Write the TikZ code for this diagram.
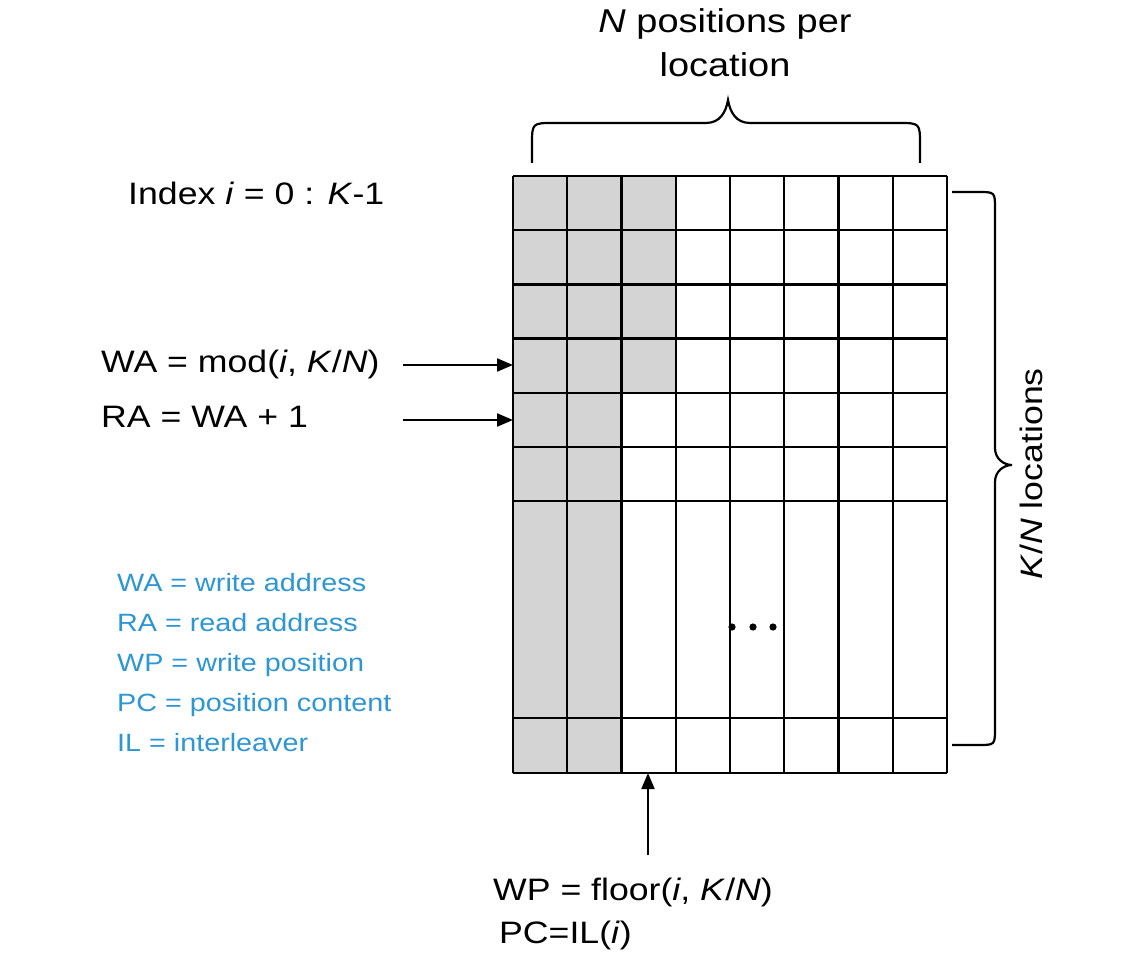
\documentclass[tikz,border=0pt]{standalone}
\usepackage{fontspec}
\setmainfont{Liberation Sans}[FakeStretch=1.15]
\usetikzlibrary{arrows.meta}
\definecolor{cellgray}{RGB}{212,212,212}
\definecolor{legblue}{RGB}{45,150,212}
\begin{document}
\begin{tikzpicture}[x=1pt,y=-1pt,
  gridline/.style={line width=2.3pt, black},
  bracepath/.style={line width=2.2pt, black},
  mainlbl/.style={inner sep=0pt, font=\fontsize{31}{37}\selectfont},
  toplbl/.style={inner sep=0pt, font=\fontsize{33}{40}\selectfont},
  leglbl/.style={inner sep=0pt, text=legblue, font=\fontsize{25}{30}\selectfont},
  ptr/.style={line width=2.2pt, -{Triangle[length=16pt,width=13pt]}}]
\useasboundingbox (0,0) rectangle (1143,957);
\fill[white] (0,0) rectangle (1143,957);

% shaded cells
\fill[cellgray] (513,176) rectangle (621.5,773);
\fill[cellgray] (621.5,176) rectangle (675.75,392.8);
% grid lines
\foreach \i in {0,...,8} {
  \draw[gridline] ({513+\i*54.25},176) -- ({513+\i*54.25},773);
}
\foreach \yy in {176,230.2,284.4,338.6,392.8,447,501.2,718,773} {
  \draw[gridline] (513,\yy) -- (947,\yy);
}
\coordinate (gridWA) at (513,365);
\coordinate (gridRA) at (513,420);
\coordinate (gridWP) at (648,773);

% dots
\foreach \dx in {732,753,773} { \fill (\dx,627) circle (3.6pt); }

% top brace
\draw[bracepath] (532,163) -- (532,145) .. controls (532,123) .. (554,123) -- (706,123)
  .. controls (720,123) and (726,112) .. (728,100)
  .. controls (730,112) and (736,123) .. (750,123) -- (898,123)
  .. controls (920,123) .. (920,145) -- (920,163);
\node[toplbl, anchor=base] (top1) at (725,33) {\textit{N} positions per};
\node[toplbl, anchor=base] (top2) at (725,77) {location};

% right brace
\draw[bracepath] (952,192) -- (978,192) .. controls (995,192) .. (995,209) -- (995,448)
  .. controls (995,459) and (1004,465) .. (1012,465)
  .. controls (1004,465) and (995,471) .. (995,482) -- (995,728)
  .. controls (995,745) .. (978,745) -- (952,745);
\node[mainlbl, rotate=90] (kn) at (1031,474) {\textit{K}/\textit{N} locations};

% left labels
\node[mainlbl, anchor=base west] (index) at (128,205) {Index \textit{i} = 0 : \textit{K}-1};
\node[mainlbl, anchor=base west] (wa) at (101,373) {WA = mod(\textit{i}, \textit{K}/\textit{N})};
\node[mainlbl, anchor=base west] (ra) at (101,428) {RA = WA + 1};
\coordinate (waStart) at (403,365);
\coordinate (raStart) at (403,420);
\draw[ptr] (waStart) -- (gridWA);
\draw[ptr] (raStart) -- (gridRA);

% legend
\node[leglbl, anchor=base west] (l1) at (117,591) {WA = write address};
\node[leglbl, anchor=base west] (l2) at (117,631) {RA = read address};
\node[leglbl, anchor=base west] (l3) at (117,671) {WP = write position};
\node[leglbl, anchor=base west] (l4) at (117,711) {PC = position content};
\node[leglbl, anchor=base west] (l5) at (117,751) {IL = interleaver};

% bottom
\coordinate (wpStart) at (648,855);
\draw[ptr] (wpStart) -- (gridWP);
\node[mainlbl, anchor=base west] (wp) at (493,900) {WP = floor(\textit{i}, \textit{K}/\textit{N})};
\node[mainlbl, anchor=base west] (pc) at (499,943) {PC=IL(\textit{i})};
\end{tikzpicture}
\end{document}
